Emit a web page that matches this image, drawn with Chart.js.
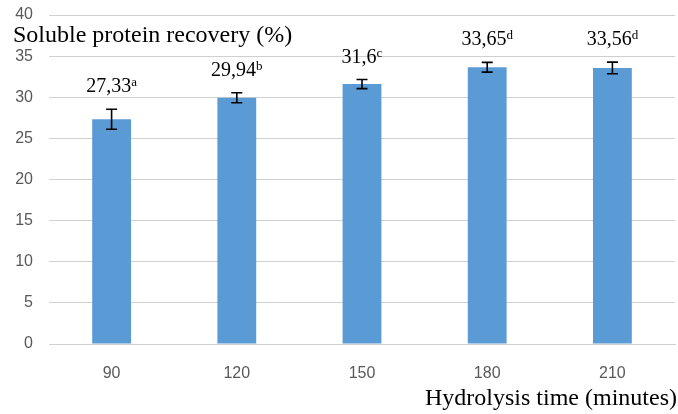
<!DOCTYPE html>
<html>
<head>
<meta charset="utf-8">
<title>Soluble protein recovery</title>
<script src="https://cdn.jsdelivr.net/npm/chart.js@4/dist/chart.umd.min.js"></script>
<style>
  html, body { margin: 0; padding: 0; background: #ffffff; }
  #chart { display: block; }
</style>
</head>
<body>
<canvas id="chart" width="678" height="414"></canvas>
<script>
// Hydrolysis time (minutes)
const categories = ['90', '120', '150', '180', '210'];
// Mean soluble protein recovery (%)
const recovery = [27.33, 29.94, 31.6, 33.65, 33.56];
// Standard deviation shown as error bars
const deviations = [1.22, 0.61, 0.55, 0.59, 0.71];
// Value labels as printed (decimal comma) and significance letters
const valueLabels = ['27,33', '29,94', '31,6', '33,65', '33,56'];
const groupLetters = ['a', 'b', 'c', 'd', 'd'];
// Y axis range
const yMin = 0;
const yMax = 40;
const yStep = 5;

const yTitle = 'Soluble protein recovery (%)';
const xTitle = 'Hydrolysis time (minutes)';

const serif = '"Liberation Serif", "Times New Roman", serif';
const sans = '"Liberation Sans", Arial, sans-serif';

// Error bars plus value labels with superscript letters
const annotatePlugin = {
  id: 'annotate',
  afterDatasetsDraw(chart) {
    const ctx = chart.ctx;
    const yScale = chart.scales.y;
    const meta = chart.getDatasetMeta(0);
    ctx.save();
    meta.data.forEach((bar, i) => {
      const v = recovery[i];
      const d = deviations[i];
      const x = bar.x;
      const top = yScale.getPixelForValue(v + d);
      const bottom = yScale.getPixelForValue(v - d);
      const cap = 5.5;
      ctx.strokeStyle = '#000000';
      ctx.lineWidth = 1.6;
      ctx.beginPath();
      ctx.moveTo(x, top); ctx.lineTo(x, bottom);
      ctx.moveTo(x - cap, top); ctx.lineTo(x + cap, top);
      ctx.moveTo(x - cap, bottom); ctx.lineTo(x + cap, bottom);
      ctx.stroke();

      // value label centred over the bar
      const baseline = top - 17;
      ctx.fillStyle = '#000000';
      ctx.textBaseline = 'alphabetic';
      ctx.font = '20px ' + serif;
      const mainW = ctx.measureText(valueLabels[i]).width;
      ctx.font = '13px ' + serif;
      const supW = ctx.measureText(groupLetters[i]).width;
      const start = x - (mainW + supW) / 2;
      ctx.textAlign = 'left';
      ctx.font = '20px ' + serif;
      ctx.fillText(valueLabels[i], start, baseline);
      ctx.font = '13px ' + serif;
      ctx.fillText(groupLetters[i], start + mainW, baseline - 6);
    });
    ctx.restore();
  },
  afterDraw(chart) {
    const ctx = chart.ctx;
    ctx.save();
    ctx.fillStyle = '#000000';
    ctx.textBaseline = 'alphabetic';
    ctx.textAlign = 'left';
    ctx.font = '24px ' + serif;
    ctx.fillText(yTitle, 13, 42);
    ctx.textAlign = 'right';
    ctx.fillText(xTitle, 677, 405);
    ctx.restore();
  }
};

new Chart(document.getElementById('chart'), {
  type: 'bar',
  data: {
    labels: categories,
    datasets: [{
      data: recovery,
      backgroundColor: '#5B9BD5',
      borderWidth: 0,
      barPercentage: 0.31,
      categoryPercentage: 1.0
    }]
  },
  options: {
    responsive: false,
    animation: false,
    devicePixelRatio: 1,
    layout: { padding: { top: 15, right: 3, bottom: 0, left: 0 } },
    plugins: {
      legend: { display: false },
      tooltip: { enabled: false },
      title: { display: false }
    },
    scales: {
      x: {
        grid: { display: false, drawTicks: false },
        border: { display: true, color: '#D0D0D0', width: 1 },
        ticks: {
          color: '#595959',
          font: { family: sans, size: 16 },
          padding: 20
        },
        afterFit(scale) { scale.height = 70; }
      },
      y: {
        min: yMin,
        max: yMax,
        ticks: {
          stepSize: yStep,
          color: '#595959',
          font: { family: sans, size: 16 },
          padding: 16
        },
        grid: { color: '#D0D0D0', lineWidth: 1, drawTicks: false },
        border: { display: false },
        afterFit(scale) {
          scale.width = 49;
          // the tick gap is horizontal only; keep it out of the vertical padding
          scale.paddingTop = 8;
          scale.paddingBottom = 8;
        }
      }
    }
  },
  plugins: [annotatePlugin]
});
</script>
</body>
</html>
